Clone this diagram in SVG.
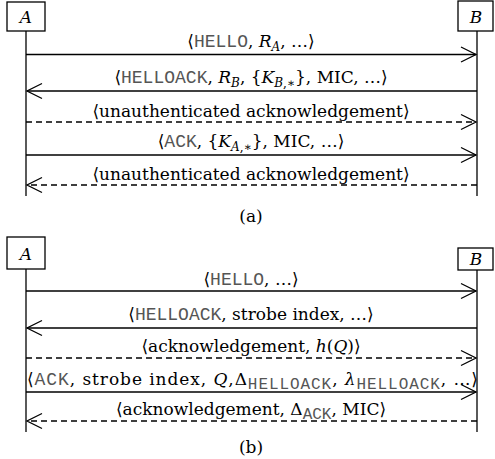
<svg xmlns="http://www.w3.org/2000/svg" width="495" height="459" viewBox="0 0 495 459">
<defs>
<style>
.box{fill:#fff;stroke:#000;stroke-width:1.3}
.life{stroke:#000;stroke-width:1.3;fill:none}
.msg{stroke:#000;stroke-width:1.3;fill:none}
.dash{stroke-dasharray:6 4}
.head{stroke:#000;stroke-width:1.3;fill:none}
.t{font-family:"DejaVu Serif",serif;font-size:17px;fill:#000}
.m{font-family:"Liberation Mono","DejaVu Sans Mono",monospace;font-size:18px;fill:#555}
.ms{font-family:"Liberation Mono","DejaVu Sans Mono",monospace;font-size:16px;fill:#555}
.i{font-style:italic}
.s{font-size:12px}
.lbl{font-family:"DejaVu Serif",serif;font-size:17px;font-style:italic}
</style>
</defs>
<g id="nodeA1"><rect class="box" x="7" y="2" width="38" height="29"/><text class="lbl" x="26" y="23" text-anchor="middle">A</text></g>
<g id="nodeB1"><rect class="box" x="458" y="1" width="35" height="30"/><text class="lbl" x="476" y="23" text-anchor="middle">B</text></g>
<g id="nodeA2"><rect class="box" x="7" y="237" width="38" height="32"/><text class="lbl" x="26" y="260" text-anchor="middle">A</text></g>
<g id="nodeB2"><rect class="box" x="458" y="248" width="35" height="22"/><text class="lbl" x="476" y="265" text-anchor="middle">B</text></g>
<g id="connectors">
<line class="life" x1="26" y1="31" x2="26" y2="196"/>
<line class="life" x1="477" y1="31" x2="477" y2="196"/>
<line class="life" x1="26" y1="269" x2="26" y2="432"/>
<line class="life" x1="477" y1="270" x2="477" y2="432"/>
<!-- (a) -->
<line class="msg" x1="26" y1="54.5" x2="476" y2="54.5"/><polyline class="head" points="461,47 476,54.5 461,62"/>
<line class="msg" x1="477" y1="91" x2="27" y2="91"/><polyline class="head" points="42,83.5 27,91 42,98.5"/>
<line class="msg dash" x1="26" y1="122" x2="476" y2="122"/><polyline class="head" points="461,114.5 476,122 461,129.5"/>
<line class="msg" x1="26" y1="155" x2="476" y2="155"/><polyline class="head" points="461,147.5 476,155 461,162.5"/>
<line class="msg dash" x1="477" y1="185" x2="27" y2="185"/><polyline class="head" points="42,177.5 27,185 42,192.5"/>
<!-- (b) -->
<line class="msg" x1="26" y1="291" x2="476" y2="291"/><polyline class="head" points="461,283.5 476,291 461,298.5"/>
<line class="msg" x1="477" y1="328" x2="27" y2="328"/><polyline class="head" points="42,320.5 27,328 42,335.5"/>
<line class="msg dash" x1="26" y1="358" x2="476" y2="358"/><polyline class="head" points="461,350.5 476,358 461,365.5"/>
<line class="msg" x1="26" y1="392" x2="476" y2="392"/><polyline class="head" points="461,384.5 476,392 461,399.5"/>
<line class="msg dash" x1="477" y1="421" x2="27" y2="421"/><polyline class="head" points="42,413.5 27,421 42,428.5"/>
</g>
<g id="labels">
<text class="t" x="251" y="47" text-anchor="middle">⟨<tspan class="m">HELLO</tspan>, <tspan class="i">R</tspan><tspan class="s i" dy="4">A</tspan><tspan dy="-4">, …⟩</tspan></text>
<text class="t" x="251" y="83" text-anchor="middle">⟨<tspan class="m">HELLOACK</tspan>, <tspan class="i">R</tspan><tspan class="s i" dy="4">B</tspan><tspan dy="-4">, {</tspan><tspan class="i">K</tspan><tspan class="s" dy="4"><tspan class="i">B</tspan>,∗</tspan><tspan dy="-4">}, MIC, …⟩</tspan></text>
<text class="t" x="251" y="117" text-anchor="middle">⟨unauthenticated acknowledgement⟩</text>
<text class="t" x="251" y="147" text-anchor="middle">⟨<tspan class="m">ACK</tspan>, {<tspan class="i">K</tspan><tspan class="s" dy="4"><tspan class="i">A</tspan>,∗</tspan><tspan dy="-4">}, MIC, …⟩</tspan></text>
<text class="t" x="251" y="180" text-anchor="middle">⟨unauthenticated acknowledgement⟩</text>
<text class="t" x="251" y="222" text-anchor="middle">(a)</text>
<text class="t" x="251" y="285" text-anchor="middle">⟨<tspan class="m">HELLO</tspan>, …⟩</text>
<text class="t" x="251" y="320" text-anchor="middle">⟨<tspan class="m">HELLOACK</tspan>, strobe index, …⟩</text>
<text class="t" x="251" y="352" text-anchor="middle">⟨acknowledgement, <tspan class="i">h</tspan>(<tspan class="i">Q</tspan>)⟩</text>
<text class="t" x="27" y="385" textLength="451" lengthAdjust="spacing">⟨<tspan class="m">ACK</tspan>, strobe index, <tspan class="i">Q</tspan>,Δ<tspan class="ms" dy="4">HELLOACK</tspan><tspan dy="-4">, </tspan><tspan class="i">λ</tspan><tspan class="ms" dy="4">HELLOACK</tspan><tspan dy="-4">, …⟩</tspan></text>
<text class="t" x="251" y="415" text-anchor="middle">⟨acknowledgement, Δ<tspan class="ms" dy="4">ACK</tspan><tspan dy="-4">, MIC⟩</tspan></text>
<text class="t" x="251" y="453" text-anchor="middle">(b)</text>
</g>
</svg>
